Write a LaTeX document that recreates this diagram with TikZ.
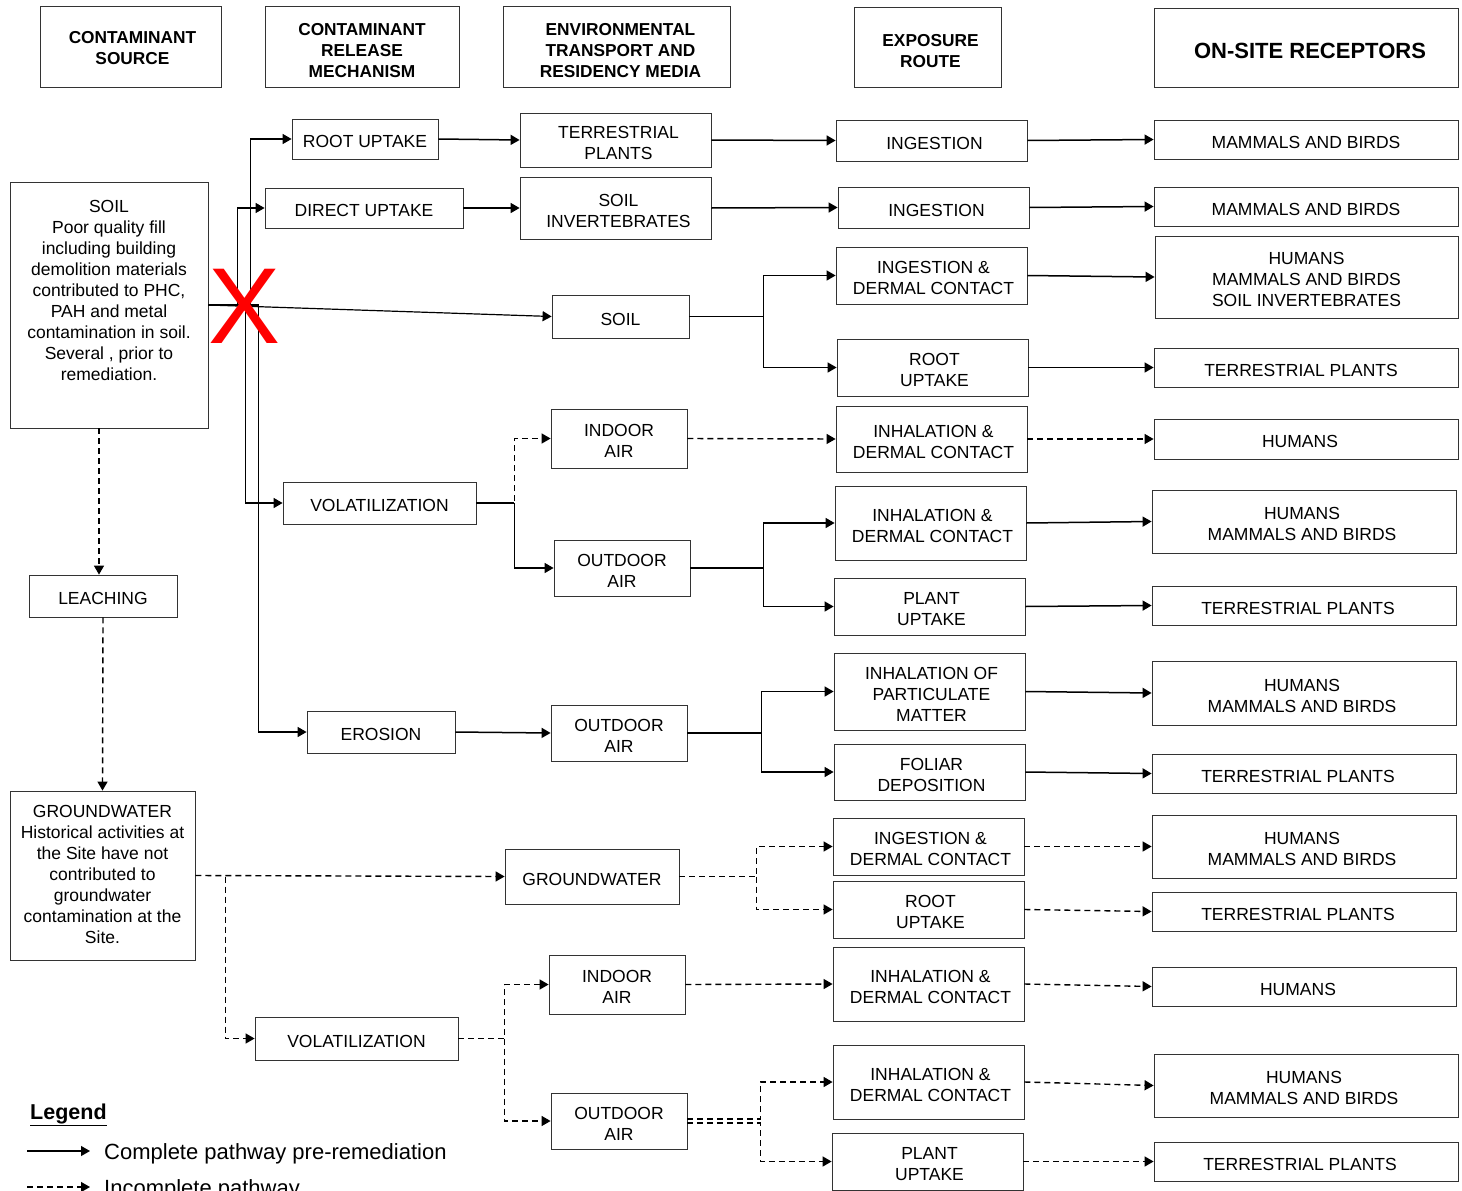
\documentclass[tikz,border=0pt]{standalone}
\usepackage{fontspec}
\setmainfont{Liberation Sans}
\usetikzlibrary{arrows.meta}
\newcommand\bodyfont{\fontsize{17.5}{21}\selectfont}
\newcommand\headfont{\fontsize{17.3}{21}\selectfont\bfseries}
\newcommand\bx[7][]{%
  \pgfmathsetmacro\mybw{#5-#3}\pgfmathsetmacro\mybh{#6-#4}%
  \pgfmathsetmacro\mycx{(#3+#5)/2}\pgfmathsetmacro\mycy{(#4+#6)/2}%
  \node[box,minimum width=\mybw pt,minimum height=\mybh pt] (#2) at (\mycx,\mycy) {};
  \node[txt,yshift=-2.5pt,#1] (#2t) at (#2.center) {#7};}
\tikzset{
  box/.style={draw=black!80,line width=0.8pt,inner sep=0pt},
  txt/.style={align=center,inner sep=0pt,font=\bodyfont},
  head/.style={font=\headfont,yshift=-2pt},
  arr/.style={line width=1.5pt,-{Triangle[length=9pt,width=10pt]}},
  darr/.style={line width=1.4pt,dash pattern=on 6pt off 4pt,-{Triangle[length=9pt,width=10pt]}},
  sline/.style={line width=1.5pt},
}
\begin{document}
\begin{tikzpicture}[x=1pt,y=-1pt]
\useasboundingbox (0,0) rectangle (1462,1191);
\clip (0,0) rectangle (1462,1191);
% headers
\bx[head,yshift=2.5pt,xshift=2pt]{h1}{40}{6}{221}{87}{CONTAMINANT\\SOURCE}
\bx[head]{h2}{265}{6}{459}{87}{CONTAMINANT\\RELEASE\\MECHANISM}
\bx[head,xshift=4pt]{h3}{503}{6}{730}{87}{ENVIRONMENTAL\\TRANSPORT AND\\RESIDENCY MEDIA}
\bx[head,xshift=3pt]{h4}{854}{7}{1001}{87}{EXPOSURE\\ROUTE}
\bx[font=\fontsize{22}{26}\selectfont\bfseries,yshift=-1pt,xshift=4pt]{h5}{1154}{8}{1458}{87}{ON-SITE RECEPTORS}
% sources
\bx[yshift=3.5pt]{soilsrc}{10}{182}{208}{428}{SOIL\\Poor quality fill\\including building\\demolition materials\\contributed to PHC,\\PAH and metal\\contamination in soil.\\Several , prior to\\remediation.\\[7pt]\mbox{}}
\bx{leach}{29}{575}{177}{617}{LEACHING}
\bx[yshift=4pt]{gwsrc}{10}{791}{195}{960}{GROUNDWATER\\Historical activities at\\the Site have not\\contributed to\\groundwater\\contamination at the\\Site.}
% release mechanisms
\bx{rootup}{292}{119}{438}{159}{ROOT UPTAKE}
\bx{dirup}{265}{188}{463}{228}{DIRECT UPTAKE}
\bx{vol1}{283}{482}{476}{524}{VOLATILIZATION}
\bx{ero}{307}{711}{455}{753}{EROSION}
\bx{vol2}{255}{1017}{458}{1060}{VOLATILIZATION}
% media
\bx[xshift=3pt]{tplants}{520}{113}{711}{167}{TERRESTRIAL\\PLANTS}
\bx[xshift=3pt]{sinv}{520}{177}{711}{239}{SOIL\\INVERTEBRATES}
\bx{soilmed}{552}{295}{689}{338}{SOIL}
\bx{ia1}{551}{409}{687}{468}{INDOOR\\AIR}
\bx{oa1}{554}{540}{690}{596}{OUTDOOR\\AIR}
\bx{oa2}{551}{705}{687}{761}{OUTDOOR\\AIR}
\bx{gwmed}{505}{849}{679}{904}{GROUNDWATER}
\bx{ia2}{549}{955}{685}{1014}{INDOOR\\AIR}
\bx{oa3}{551}{1093}{687}{1149}{OUTDOOR\\AIR}
% exposure routes
\bx[xshift=3pt]{ing1}{836}{120}{1027}{161}{INGESTION}
\bx[xshift=3pt]{ing2}{838}{187}{1029}{228}{INGESTION}
\bx[xshift=2pt]{idc1}{836}{247}{1027}{304}{INGESTION \&\\DERMAL CONTACT}
\bx[xshift=2pt]{ru1}{837}{339}{1028}{396}{ROOT\\UPTAKE}
\bx[xshift=2pt]{ihd1}{836}{406}{1027}{472}{INHALATION \&\\DERMAL CONTACT}
\bx[xshift=2pt]{ihd2}{835}{486}{1026}{560}{INHALATION \&\\DERMAL CONTACT}
\bx[xshift=2pt]{pu1}{834}{578}{1025}{635}{PLANT\\UPTAKE}
\bx[xshift=2pt]{ipm}{834}{653}{1025}{730}{INHALATION OF\\PARTICULATE\\MATTER}
\bx[xshift=2pt]{fd}{834}{744}{1025}{800}{FOLIAR\\DEPOSITION}
\bx[xshift=2pt]{idc2}{833}{818}{1024}{875}{INGESTION \&\\DERMAL CONTACT}
\bx[xshift=2pt]{ru2}{833}{881}{1024}{938}{ROOT\\UPTAKE}
\bx[xshift=2pt]{ihd3}{833}{947}{1024}{1021}{INHALATION \&\\DERMAL CONTACT}
\bx[xshift=2pt]{ihd4}{833}{1045}{1024}{1119}{INHALATION \&\\DERMAL CONTACT}
\bx[xshift=2pt]{pu2}{832}{1133}{1023}{1190}{PLANT\\UPTAKE}
% receptors
\bx{r1}{1154}{120}{1458}{159}{MAMMALS AND BIRDS}
\bx{r2}{1154}{187}{1458}{226}{MAMMALS AND BIRDS}
\bx{r3}{1155}{236}{1458}{318}{HUMANS\\MAMMALS AND BIRDS\\SOIL INVERTEBRATES}
\bx[xshift=-5pt]{r4}{1154}{348}{1458}{387}{TERRESTRIAL PLANTS}
\bx[xshift=-6pt]{r5}{1154}{419}{1458}{459}{HUMANS}
\bx[xshift=-2pt]{r6}{1152}{490}{1456}{553}{HUMANS\\MAMMALS AND BIRDS}
\bx[xshift=-6pt]{r7}{1152}{586}{1456}{625}{TERRESTRIAL PLANTS}
\bx[xshift=-2pt]{r8}{1152}{661}{1456}{725}{HUMANS\\MAMMALS AND BIRDS}
\bx[xshift=-6pt]{r9}{1152}{754}{1456}{793}{TERRESTRIAL PLANTS}
\bx[xshift=-2pt]{r10}{1152}{815}{1456}{878}{HUMANS\\MAMMALS AND BIRDS}
\bx[xshift=-6pt]{r11}{1152}{892}{1456}{931}{TERRESTRIAL PLANTS}
\bx[xshift=-6pt]{r12}{1152}{967}{1456}{1006}{HUMANS}
\bx[xshift=-2pt]{r13}{1154}{1054}{1458}{1117}{HUMANS\\MAMMALS AND BIRDS}
\bx[xshift=-6pt]{r14}{1154}{1142}{1458}{1181}{TERRESTRIAL PLANTS}
% soil source connectors
\draw[arr] (soilsrc.east) -- ++(42,0) |- (rootup.west);
\draw[arr] (soilsrc.east) -- ++(29,0) |- (dirup.west);
\draw[arr] (soilsrc.east) -- ++(37,0) |- (vol1.west);
\draw[arr] (soilsrc.east) -- ++(50,0) |- (ero.west);
\draw[arr,line width=1.2pt] (soilsrc.east) -- (soilmed.west);
\draw[arr] (rootup.east) -- (tplants.west);
\draw[arr] (dirup.east) -- (sinv.west);
\draw[arr] (tplants.east) -- (ing1.west);
\draw[arr] (sinv.east) -- (ing2.west);
\draw[arr] (ing1.east) -- (r1.west);
\draw[arr] (ing2.east) -- (r2.west);
\draw[arr] (soilmed.east) -- ++(74,0) coordinate (s1) |- (idc1.west);
\draw[arr] (s1) |- (ru1.west);
\draw[arr] (idc1.east) -- (r3.west);
\draw[arr] (ru1.east) -- (r4.west);
\draw[sline] (vol1.east) -- ++(38,0) coordinate (v1);
\draw[darr] (vol1.east) -- (v1) |- (ia1.west);
\draw[arr] (v1) |- (oa1.west);
\draw[darr] (ia1.east) -- (ihd1.west);
\draw[darr] (ihd1.east) -- (r5.west);
\draw[arr] (oa1.east) -- ++(73,0) coordinate (o1) |- (ihd2.west);
\draw[arr] (o1) |- (pu1.west);
\draw[arr] (ihd2.east) -- (r6.west);
\draw[arr] (pu1.east) -- (r7.west);
\draw[arr] (ero.east) -- (oa2.west);
\draw[arr] (oa2.east) -- ++(74,0) coordinate (o2) |- (ipm.west);
\draw[arr] (o2) |- (fd.west);
\draw[arr] (ipm.east) -- (r8.west);
\draw[arr] (fd.east) -- (r9.west);
% groundwater connectors
\draw[darr] ([xshift=-10pt]soilsrc.south) -- ([xshift=-4pt]leach.north);
\draw[darr] (leach.south) -- (gwsrc.north);
\draw[darr] (gwsrc.east) -- (gwmed.west);
\draw[darr] (gwsrc.east) ++(30,1) coordinate (g0) |- (vol2.west);
\draw[darr] (gwmed.east) -- ++(77,0) coordinate (g1) |- (idc2.west);
\draw[darr] (g1) |- (ru2.west);
\draw[darr] (idc2.east) -- (r10.west);
\draw[darr] (ru2.east) -- (r11.west);
\draw[darr] (vol2.east) -- ++(46,0) coordinate (g2) |- (ia2.west);
\draw[darr] (g2) |- (oa3.west);
\draw[darr] (ia2.east) -- (ihd3.west);
\draw[darr] (ihd3.east) -- (r12.west);
\draw[darr] ([yshift=2pt]oa3.east) -- ++(73,0) |- (ihd4.west);
\draw[darr] ([yshift=-2pt]oa3.east) -- ++(73,0) |- (pu2.west);
\draw[darr] (ihd4.east) -- (r13.west);
\draw[darr] (pu2.east) -- (r14.west);
% red cross
\node[text=red,inner sep=0pt,font=\fontsize{108}{108}\selectfont] (cross) at (245,306.5) {X};
% legend
\node[anchor=base west,inner sep=0pt,font=\fontsize{21.5}{25}\selectfont\bfseries] (lgt) at (30,1119) {\underline{Legend}};
\node[anchor=base west,inner sep=0pt,font=\fontsize{22}{26}\selectfont] (lg1) at (104,1159) {Complete pathway pre-remediation};
\node[anchor=base west,inner sep=0pt,font=\fontsize{22}{26}\selectfont] (lg2) at (104,1195) {Incomplete pathway};
\coordinate (la1) at (27,1151);
\coordinate (la2) at (27,1187);
\draw[arr,line width=1.2pt] (la1) -- (la1 -| 90,0);
\draw[darr,line width=1.2pt] (la2) -- (la2 -| 90,0);
\end{tikzpicture}
\end{document}
